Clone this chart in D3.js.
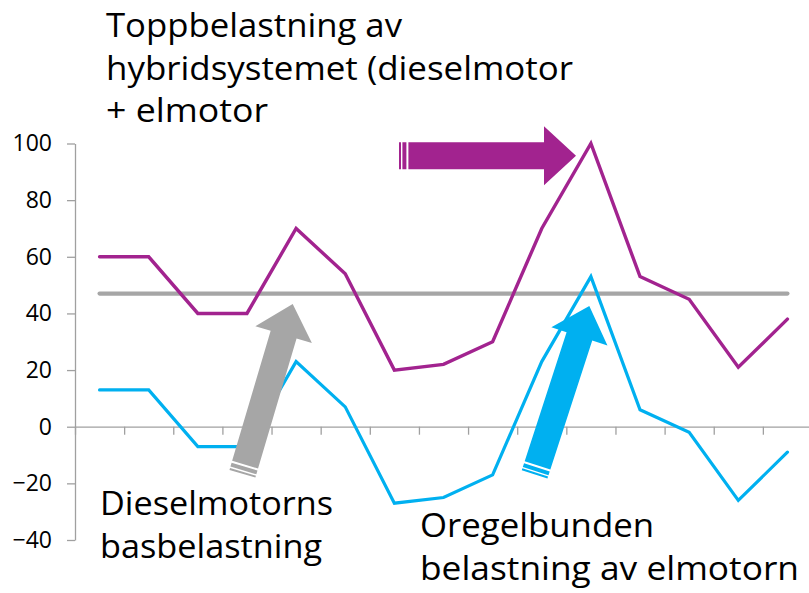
<!DOCTYPE html>
<html>
<head>
<meta charset="utf-8">
<script src="https://cdn.jsdelivr.net/npm/d3@7"></script>
<style>
  html, body { margin: 0; padding: 0; background: #ffffff; }
  svg { display: block; }
  text { font-family: "Open Sans", "Noto Sans", sans-serif; fill: #000; }
</style>
</head>
<body>
<svg id="chart" width="809" height="593"></svg>
<script>
// ---- data ----
const categories = [1, 2, 3, 4, 5, 6, 7, 8, 9, 10, 11, 12, 13, 14, 15];
const peakLoad = [60, 60, 40, 40, 70, 54, 20, 22, 30, 70, 100, 53, 45, 21, 38];      // purple
const baseLoad = [47, 47, 47, 47, 47, 47, 47, 47, 47, 47, 47, 47, 47, 47, 47];      // grey
const irregularLoad = [13, 13, -7, -7, 23, 7, -27, -25, -17, 23, 53, 6, -2, -26, -9]; // cyan
const yTicks = [-40, -20, 0, 20, 40, 60, 80, 100];

const titleLines = ["Toppbelastning av", "hybridsystemet (dieselmotor", "+ elmotor"];
const baseLabelLines = ["Dieselmotorns", "basbelastning"];
const irregLabelLines = ["Oregelbunden", "belastning av elmotorn"];

// ---- styles ----
const COL_PEAK = "#a2238f";
const COL_BASE = "#a6a6a6";
const COL_IRR = "#00b0f0";
const COL_AXIS = "#a0a0a0";

const svg = d3.select("#chart");

const x = d3.scaleBand().domain(categories).range([75, 812]).padding(0);
const xEdge = d3.scaleLinear().domain([0, categories.length]).range([75, 812]);
const y = d3.scaleLinear().domain([-40, 100]).range([540, 143.5]);

// y axis
const yAxis = svg.append("g")
  .attr("transform", "translate(75,0)")
  .call(d3.axisLeft(y).tickValues(yTicks).tickSize(8).tickSizeOuter(0).tickPadding(15).tickFormat(d3.format("d")));
yAxis.select(".domain").attr("stroke", COL_AXIS).attr("stroke-width", 1.3);
yAxis.selectAll(".tick line").attr("stroke", COL_AXIS).attr("stroke-width", 1.3);
yAxis.selectAll(".tick text").attr("font-size", 23).attr("fill", "#000")
  .style("font-family", '"Open Sans", "Noto Sans", sans-serif');

// x axis (ticks on category boundaries)
const xAxis = svg.append("g")
  .attr("transform", `translate(0,${y(0)})`)
  .call(d3.axisBottom(xEdge).tickValues(d3.range(0, categories.length + 1)).tickSize(8).tickSizeOuter(0).tickFormat(""));
xAxis.select(".domain").attr("stroke", COL_AXIS).attr("stroke-width", 1.3);
xAxis.selectAll(".tick line").attr("stroke", COL_AXIS).attr("stroke-width", 1.3);

// lines
const line = d3.line()
  .x((d, i) => x(categories[i]) + x.bandwidth() / 2)
  .y(d => y(d));

svg.append("path").datum(baseLoad).attr("d", line)
  .attr("fill", "none").attr("stroke", COL_BASE).attr("stroke-width", 4.2).attr("stroke-linecap", "round");
svg.append("path").datum(irregularLoad).attr("d", line)
  .attr("fill", "none").attr("stroke", COL_IRR).attr("stroke-width", 3.2).attr("stroke-linecap", "round").attr("stroke-linejoin", "miter");
svg.append("path").datum(peakLoad).attr("d", line)
  .attr("fill", "none").attr("stroke", COL_PEAK).attr("stroke-width", 3.4).attr("stroke-linecap", "round").attr("stroke-linejoin", "miter");

// striped block arrows (annotation shapes), drawn pointing along +x then rotated
function stripedArrow(L) {
  const sh = 13.5, hh = 29.5, headLen = 32;
  const hx = L - headLen;
  const p = d3.path();
  // two thin stripes at the tail
  p.rect(0, -sh, 2, 2 * sh);
  p.rect(3.4, -sh, 4, 2 * sh);
  // shaft + head
  p.moveTo(9.4, -sh);
  p.lineTo(hx, -sh);
  p.lineTo(hx, -hh);
  p.lineTo(L, 0);
  p.lineTo(hx, hh);
  p.lineTo(hx, sh);
  p.lineTo(9.4, sh);
  p.closePath();
  return p.toString();
}
const arrows = [
  { tip: [576, 155.7], angle: 0, color: COL_PEAK },
  { tip: [292.7, 304], angle: -73.5, color: COL_BASE },
  { tip: [589.3, 306], angle: -72, color: COL_IRR }
];
const L = 177;
svg.selectAll("path.arrow").data(arrows).enter().append("path")
  .attr("class", "arrow")
  .attr("d", stripedArrow(L))
  .attr("fill", d => d.color)
  .attr("transform", d => `translate(${d.tip[0]},${d.tip[1]}) rotate(${d.angle}) translate(${-L},0)`);

// labels
function addLines(lines, x0, baselines, widths, size) {
  lines.forEach((t, i) => {
    svg.append("text")
      .attr("x", x0).attr("y", baselines[i])
      .attr("font-size", size)
      .attr("textLength", widths[i])
      .attr("lengthAdjust", "spacingAndGlyphs")
      .text(t);
  });
}
addLines(titleLines, 106, [37, 80, 122], [296, 467, 162], 33);
addLines(baseLabelLines, 100, [515, 558], [233, 222], 32);
addLines(irregLabelLines, 420, [537, 580], [234, 379], 32);
</script>
</body>
</html>
